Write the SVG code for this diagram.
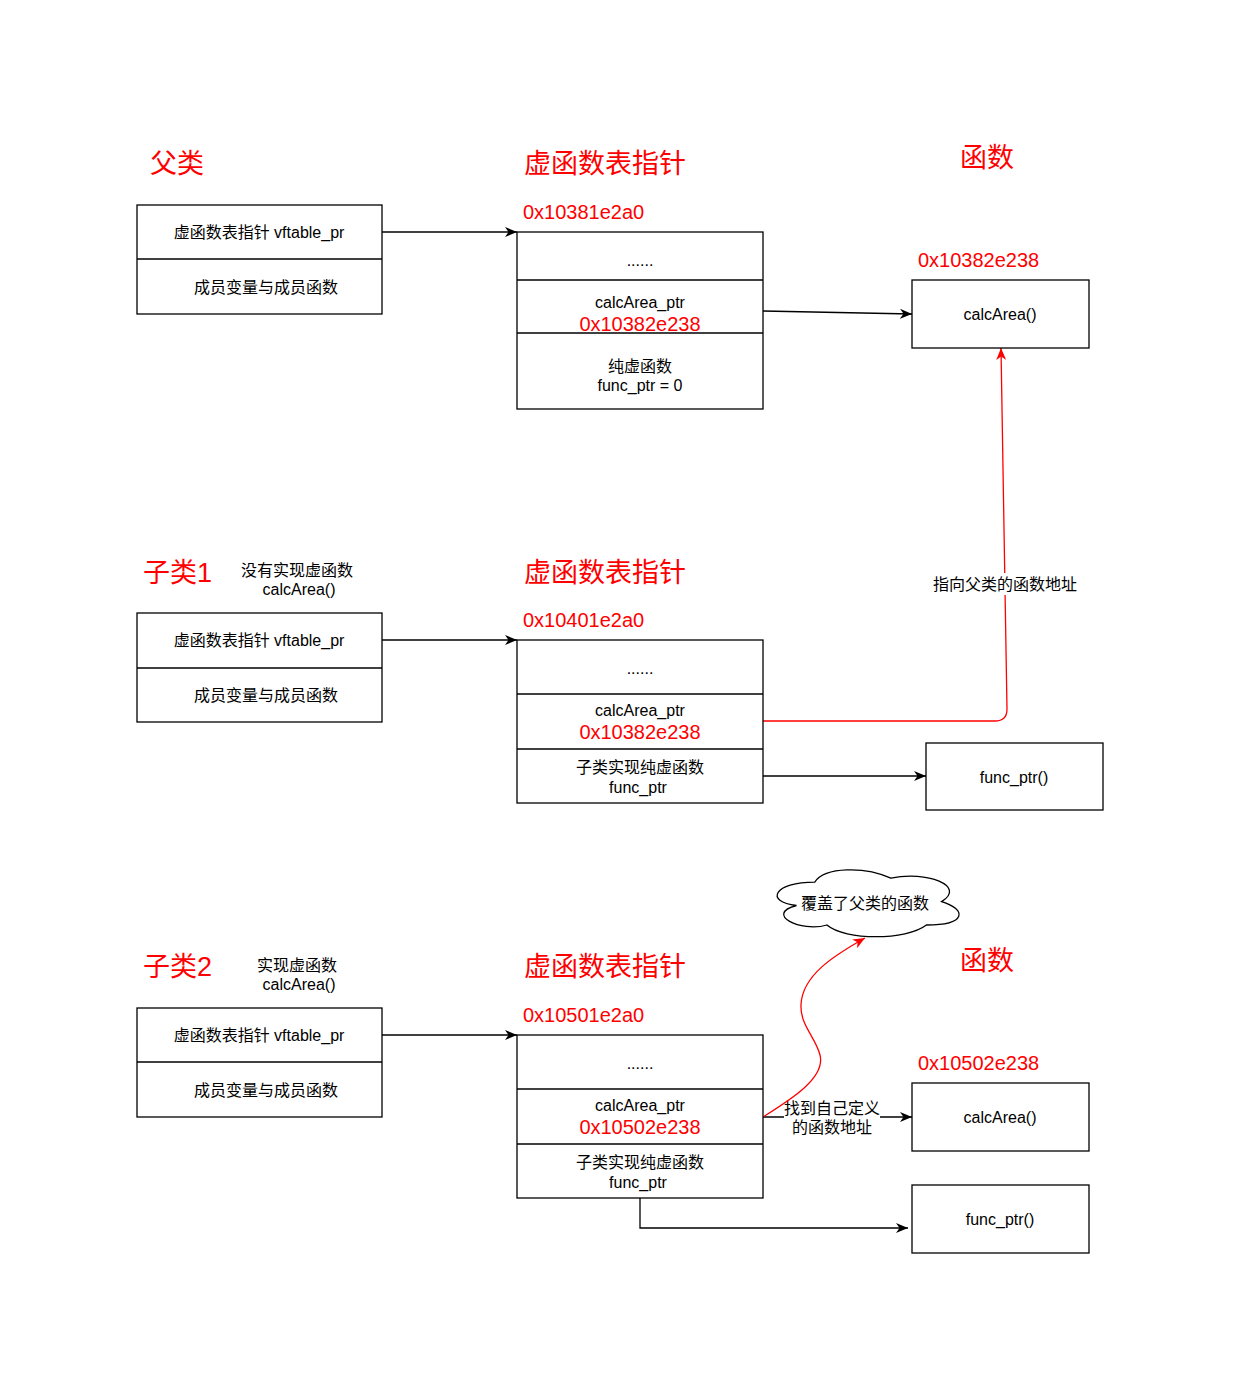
<svg xmlns="http://www.w3.org/2000/svg" width="1240" height="1390" viewBox="0 0 1240 1390">
<style>
text { font-family: "Liberation Sans", "Noto Sans CJK SC", sans-serif; }
.t { font-size: 16px; fill: #000; text-anchor: middle; }
.title { font-size: 27px; fill: #FF0000; }
.addr { font-size: 20px; fill: #FF0000; }
.addrc { font-size: 20px; fill: #FF0000; text-anchor: middle; }
.box { fill: #fff; stroke: #000; stroke-width: 1.3; }
.div { stroke: #000; stroke-width: 1.3; }
.ln { fill: none; stroke: #000; stroke-width: 1.3; }
.rl { fill: none; stroke: #FF0000; stroke-width: 1.3; }
</style>
<defs>
<marker id="ab" markerUnits="userSpaceOnUse" markerWidth="12" markerHeight="10" viewBox="0 0 12 10" refX="12" refY="5" orient="auto">
<path d="M0,0 L12,5 L0,10 L3.5,5 z" fill="#000"/>
</marker>
<marker id="ar" markerUnits="userSpaceOnUse" markerWidth="12" markerHeight="10" viewBox="0 0 12 10" refX="12" refY="5" orient="auto">
<path d="M0,0 L12,5 L0,10 L3.5,5 z" fill="#FF0000"/>
</marker>
</defs>
<rect width="1240" height="1390" fill="#fff"/>

<g id="labels">
<text class="title" x="150" y="173">父类</text>
<text class="title" x="524" y="173">虚函数表指针</text>
<text class="title" x="960" y="167">函数</text>
<text class="addr" x="523" y="219">0x10381e2a0</text>
<text class="addr" x="918" y="267">0x10382e238</text>

<text class="title" x="143" y="582">子类1</text>
<text class="t" x="297" y="576">没有实现虚函数</text>
<text class="t" x="299" y="595">calcArea()</text>
<text class="title" x="524" y="582">虚函数表指针</text>
<text class="addr" x="523" y="627">0x10401e2a0</text>

<text class="title" x="143" y="976">子类2</text>
<text class="t" x="297" y="971">实现虚函数</text>
<text class="t" x="299" y="990">calcArea()</text>
<text class="title" x="524" y="976">虚函数表指针</text>
<text class="title" x="960" y="970">函数</text>
<text class="addr" x="523" y="1022">0x10501e2a0</text>
<text class="addr" x="918" y="1070">0x10502e238</text>
</g>

<g id="connectors">
<line class="ln" x1="382" y1="232" x2="517" y2="232" marker-end="url(#ab)"/>
<line class="ln" x1="763" y1="311" x2="912" y2="314" marker-end="url(#ab)"/>
<line class="ln" x1="382" y1="640" x2="517" y2="640" marker-end="url(#ab)"/>
<line class="ln" x1="763" y1="776" x2="926" y2="776" marker-end="url(#ab)"/>
<path class="rl" d="M763,721 L995,721 Q1007,721 1007,709 L1001,348" marker-end="url(#ar)"/>
<rect x="931" y="573" width="148" height="22" fill="#fff"/>
<text class="t" x="1005" y="590">指向父类的函数地址</text>
<line class="ln" x1="382" y1="1035" x2="517" y2="1035" marker-end="url(#ab)"/>
<line class="ln" x1="763" y1="1117" x2="912" y2="1117" marker-end="url(#ab)"/>
<rect x="784" y="1098" width="96" height="38" fill="#fff"/>
<text class="t" x="832" y="1114">找到自己定义</text>
<text class="t" x="832" y="1133">的函数地址</text>
<path class="ln" d="M640,1198 L640,1228 L908,1228" marker-end="url(#ab)"/>
<path class="rl" d="M763,1117 C790,1100 826,1078 820,1055 C816,1038 800,1025 801,1005 C802,975 835,955 865,938" marker-end="url(#ar)"/>
</g>

<g id="parent-obj">
<rect class="box" x="137" y="205" width="245" height="109"/>
<line class="div" x1="137" y1="259" x2="382" y2="259"/>
<text class="t" x="259" y="238">虚函数表指针 vftable_pr</text>
<text class="t" x="266" y="293">成员变量与成员函数</text>
</g>
<g id="parent-vtable">
<rect class="box" x="517" y="232" width="246" height="177"/>
<line class="div" x1="517" y1="280" x2="763" y2="280"/>
<line class="div" x1="517" y1="333" x2="763" y2="333"/>
<text class="t" x="640" y="266">......</text>
<text class="t" x="640" y="308">calcArea_ptr</text>
<text class="addrc" x="640" y="331">0x10382e238</text>
<text class="t" x="640" y="372">纯虚函数</text>
<text class="t" x="640" y="391">func_ptr = 0</text>
</g>
<g id="parent-calcArea">
<rect class="box" x="912" y="280" width="177" height="68"/>
<text class="t" x="1000" y="320">calcArea()</text>
</g>

<g id="child1-obj">
<rect class="box" x="137" y="613" width="245" height="109"/>
<line class="div" x1="137" y1="668" x2="382" y2="668"/>
<text class="t" x="259" y="646">虚函数表指针 vftable_pr</text>
<text class="t" x="266" y="701">成员变量与成员函数</text>
</g>
<g id="child1-vtable">
<rect class="box" x="517" y="640" width="246" height="163"/>
<line class="div" x1="517" y1="694" x2="763" y2="694"/>
<line class="div" x1="517" y1="749" x2="763" y2="749"/>
<text class="t" x="640" y="674">......</text>
<text class="t" x="640" y="716">calcArea_ptr</text>
<text class="addrc" x="640" y="739">0x10382e238</text>
<text class="t" x="640" y="773">子类实现纯虚函数</text>
<text class="t" x="638" y="793">func_ptr</text>
</g>
<g id="child1-func">
<rect class="box" x="926" y="743" width="177" height="67"/>
<text class="t" x="1014" y="783">func_ptr()</text>
</g>

<g id="cloud">
<path class="box" vector-effect="non-scaling-stroke" transform="matrix(1.1033,0,0,1.2,-92.16,-183.8)" d="M822,888.25 C785.2,888.25 776,904.5 805.44,907.75 C776,914.9 809.12,930.5 833.04,924 C849.6,937 904.8,937 923.2,924 C960,924 960,911 937,904.5 C960,891.5 923.2,878.5 891,885 C868,875.25 831.2,875.25 822,888.25 Z"/>
<text class="t" x="865" y="909">覆盖了父类的函数</text>
</g>
<g id="child2-obj">
<rect class="box" x="137" y="1008" width="245" height="109"/>
<line class="div" x1="137" y1="1062" x2="382" y2="1062"/>
<text class="t" x="259" y="1041">虚函数表指针 vftable_pr</text>
<text class="t" x="266" y="1096">成员变量与成员函数</text>
</g>
<g id="child2-vtable">
<rect class="box" x="517" y="1035" width="246" height="163"/>
<line class="div" x1="517" y1="1089" x2="763" y2="1089"/>
<line class="div" x1="517" y1="1144" x2="763" y2="1144"/>
<text class="t" x="640" y="1069">......</text>
<text class="t" x="640" y="1111">calcArea_ptr</text>
<text class="addrc" x="640" y="1134">0x10502e238</text>
<text class="t" x="640" y="1168">子类实现纯虚函数</text>
<text class="t" x="638" y="1188">func_ptr</text>
</g>
<g id="child2-calcArea">
<rect class="box" x="912" y="1083" width="177" height="68"/>
<text class="t" x="1000" y="1123">calcArea()</text>
</g>
<g id="child2-func">
<rect class="box" x="912" y="1185" width="177" height="68"/>
<text class="t" x="1000" y="1225">func_ptr()</text>
</g>
</svg>
